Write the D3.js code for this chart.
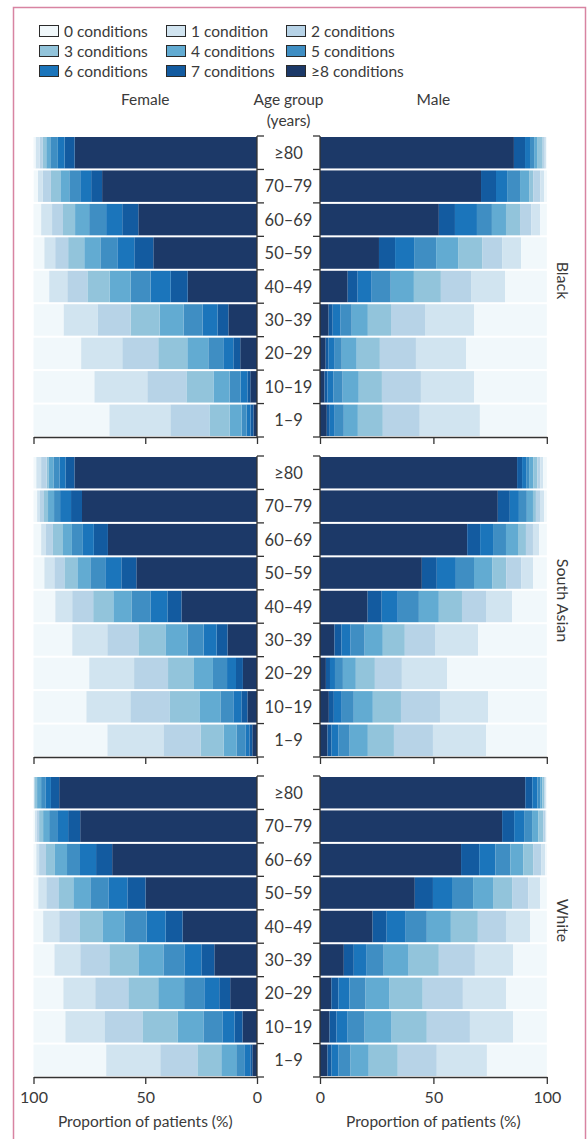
<!DOCTYPE html>
<html>
<head>
<meta charset="utf-8">
<script src="https://cdn.jsdelivr.net/npm/d3@7"></script>
<style>
  html, body { margin: 0; padding: 0; background: #fff; }
  svg { display: block; }
  text { font-family: Lato, "Noto Sans", sans-serif; fill: #3a3a3a; }
</style>
</head>
<body>
<svg id="chart" width="587" height="1139"></svg>
<script>
// ---------- data ----------
const ageGroups = ["≥80", "70–79", "60–69", "50–59", "40–49", "30–39", "20–29", "10–19", "1–9"];
const conditionLabels = ["0 conditions", "1 condition", "2 conditions", "3 conditions", "4 conditions",
  "5 conditions", "6 conditions", "7 conditions", "≥8 conditions"];
const conditionColors = ["#f1f8fb", "#d1e4f0", "#b7d3e7", "#92c4db", "#62abd2", "#3f8ec3", "#1b75bb", "#135ba0", "#1c3968"];
const ethnicities = ["Black", "South Asian", "White"];
const xTicks = [0, 50, 100];

// each row: % of patients with 0,1,2,3,4,5,6,7,≥8 conditions (rows follow ageGroups)
const blackFemale = [
  [0.9, 1.8, 1.5, 1.5, 1.8, 3.4, 3.0, 4.5, 81.6],
  [1.9, 2.2, 3.6, 4.2, 4.0, 4.9, 4.9, 4.9, 69.3],
  [3.4, 4.9, 4.9, 5.4, 6.3, 7.6, 7.2, 7.2, 53.1],
  [4.8, 4.9, 5.8, 7.2, 7.2, 7.6, 7.6, 8.5, 46.4],
  [7.0, 8.1, 9.0, 9.9, 9.4, 9.0, 9.0, 7.6, 31.0],
  [13.3, 15.2, 14.8, 13.0, 10.7, 8.5, 6.7, 4.9, 12.8],
  [21.3, 18.4, 16.1, 13.0, 9.4, 6.7, 4.5, 3.1, 7.5],
  [27.2, 23.7, 17.5, 12.1, 7.2, 4.9, 3.1, 1.3, 3.0],
  [33.9, 27.3, 17.5, 9.0, 5.4, 2.2, 1.8, 1.3, 1.6]
];
const blackMale = [
  [0.3, 0.6, 0.9, 2.5, 1.3, 1.8, 2.2, 4.9, 85.5],
  [1.2, 1.8, 3.1, 1.8, 4.0, 5.7, 4.9, 6.6, 71.0],
  [2.9, 4.0, 4.9, 6.2, 6.2, 6.6, 9.7, 7.1, 52.4],
  [11.3, 8.4, 8.8, 10.6, 9.7, 9.7, 8.4, 7.1, 26.0],
  [18.4, 15.0, 13.3, 11.9, 10.2, 8.4, 6.2, 4.4, 12.2],
  [32.1, 21.6, 15.0, 10.2, 7.1, 4.9, 3.5, 1.8, 3.8],
  [35.6, 22.1, 15.9, 10.2, 6.6, 3.1, 2.7, 1.3, 2.5],
  [32.1, 23.4, 17.2, 10.2, 7.1, 4.0, 2.7, 1.3, 2.0],
  [29.5, 26.5, 16.3, 11.0, 6.2, 4.0, 2.2, 1.3, 3.0]
];
const southAsianFemale = [
  [1.2, 2.2, 2.5, 1.0, 2.0, 2.7, 2.7, 4.0, 81.7],
  [1.6, 1.3, 1.8, 1.8, 2.7, 2.7, 4.9, 4.9, 78.3],
  [3.4, 2.2, 3.1, 4.5, 4.0, 4.9, 4.9, 6.3, 66.7],
  [4.8, 4.5, 4.5, 5.8, 5.8, 6.7, 7.2, 6.7, 54.0],
  [9.7, 7.6, 9.4, 9.0, 8.1, 8.5, 7.6, 6.3, 33.8],
  [17.3, 15.7, 13.9, 12.1, 9.9, 7.2, 5.8, 4.9, 13.2],
  [24.9, 20.1, 15.2, 11.6, 8.5, 6.3, 4.0, 3.1, 6.3],
  [23.6, 19.7, 17.5, 13.4, 9.4, 5.8, 3.6, 2.7, 4.3],
  [33.0, 25.1, 16.6, 10.3, 5.8, 4.0, 1.8, 1.3, 2.1]
];
const southAsianMale = [
  [1.6, 1.3, 1.3, 1.8, 1.8, 1.3, 1.8, 2.2, 86.9],
  [1.2, 1.8, 1.8, 1.3, 2.7, 3.5, 4.0, 5.3, 78.4],
  [3.4, 2.7, 3.1, 3.5, 5.3, 5.7, 5.7, 5.7, 64.9],
  [6.0, 5.3, 6.6, 6.2, 8.0, 8.0, 8.4, 6.6, 44.9],
  [15.3, 11.5, 10.6, 10.2, 8.8, 9.3, 7.1, 6.2, 21.0],
  [30.3, 19.0, 13.3, 9.7, 8.0, 6.2, 4.0, 3.1, 6.4],
  [44.0, 19.9, 11.9, 8.4, 5.7, 3.5, 2.2, 1.8, 2.6],
  [25.9, 21.2, 17.2, 12.4, 8.4, 5.3, 3.5, 2.2, 3.9],
  [26.8, 23.4, 17.2, 11.5, 8.0, 4.9, 3.1, 1.8, 3.3]
];
const whiteFemale = [
  [0.1, 0.1, 0.2, 1.2, 1.8, 1.9, 2.5, 3.7, 88.5],
  [0.6, 0.7, 1.2, 1.8, 2.7, 3.6, 4.9, 5.4, 79.1],
  [1.2, 1.3, 3.1, 4.0, 5.4, 5.8, 7.2, 7.2, 64.8],
  [2.1, 3.6, 5.4, 6.7, 7.6, 8.1, 8.5, 8.1, 49.9],
  [4.3, 7.2, 9.0, 10.3, 9.9, 9.9, 8.5, 7.6, 33.3],
  [9.3, 11.6, 13.0, 13.0, 11.2, 9.4, 7.6, 5.8, 19.1],
  [13.3, 14.3, 14.8, 13.4, 11.6, 9.0, 6.7, 4.9, 12.0],
  [14.2, 17.5, 17.0, 15.7, 11.6, 8.5, 5.4, 3.6, 6.5],
  [32.5, 24.2, 16.6, 10.7, 6.7, 3.6, 2.7, 0.9, 2.1]
];
const whiteMale = [
  [0.3, 0.4, 0.4, 0.9, 0.9, 1.3, 2.2, 3.1, 90.5],
  [0.3, 0.4, 0.9, 2.2, 2.7, 3.5, 4.4, 5.3, 80.3],
  [0.7, 1.8, 3.5, 4.4, 5.7, 6.6, 7.1, 8.0, 62.2],
  [2.9, 5.3, 7.1, 8.4, 8.8, 9.3, 8.4, 8.0, 41.8],
  [7.4, 10.6, 12.4, 11.9, 10.6, 9.3, 8.4, 6.2, 23.2],
  [14.9, 16.8, 15.9, 13.3, 11.0, 7.5, 5.7, 4.4, 10.5],
  [18.0, 19.0, 17.7, 14.6, 10.6, 7.1, 4.9, 3.1, 5.0],
  [14.9, 19.0, 19.0, 15.5, 11.9, 7.5, 4.9, 3.1, 4.2],
  [26.4, 22.1, 17.2, 12.8, 8.0, 5.3, 3.1, 1.8, 3.3]
];

const panels = [
  { name: ethnicities[0], female: blackFemale, male: blackMale },
  { name: ethnicities[1], female: southAsianFemale, male: southAsianMale },
  { name: ethnicities[2], female: whiteFemale, male: whiteMale }
];

// ---------- layout ----------
const svg = d3.select("#chart");
const axisColor = "#333";
const femaleRange = [257, 33.5];
const maleRange = [320, 546.8];
const panelTop0 = 136, panelH = 301, panelGap = 19;
const fs = 15.5;

const xF = d3.scaleLinear().domain([0, 100]).range(femaleRange);
const xM = d3.scaleLinear().domain([0, 100]).range(maleRange);
const color = d3.scaleOrdinal().domain(d3.range(9)).range(conditionColors);

// frame
svg.append("rect")
  .attr("x", 13.5).attr("y", 7.5).attr("width", 572).attr("height", 1150)
  .attr("fill", "none").attr("stroke", "#d884a2").attr("stroke-width", 1.5);

// legend
const legCols = [39, 166, 286], legRows = [31, 51, 71];
conditionLabels.forEach((lab, i) => {
  const gx = legCols[i % 3], gy = legRows[Math.floor(i / 3)];
  svg.append("rect").attr("x", gx + 0.5).attr("y", gy - 5.5).attr("width", 19).attr("height", 11)
    .attr("fill", color(i)).attr("stroke", "#2b2b2b").attr("stroke-width", 1);
  svg.append("text").attr("x", gx + 25).attr("y", gy + 5.5).attr("font-size", fs).text(lab);
});

// headers
svg.append("text").attr("x", (femaleRange[0] + femaleRange[1]) / 2).attr("y", 104.5)
  .attr("text-anchor", "middle").attr("font-size", fs).text("Female");
svg.append("text").attr("x", (maleRange[0] + maleRange[1]) / 2).attr("y", 104.5)
  .attr("text-anchor", "middle").attr("font-size", fs).text("Male");
svg.append("text").attr("x", 288.5).attr("y", 104.5)
  .attr("text-anchor", "middle").attr("font-size", fs).text("Age group");
svg.append("text").attr("x", 288.5).attr("y", 125.5)
  .attr("text-anchor", "middle").attr("font-size", fs).text("(years)");

// stack: ≥8 next to centre, then 7 ... 0 outward
const stackKeys = d3.range(8, -1, -1);
const stack = d3.stack().keys(stackKeys).value((row, k) => row[k]);

panels.forEach((p, pi) => {
  const top = panelTop0 + pi * (panelH + panelGap);
  const y = d3.scaleBand().domain(ageGroups).range([top, top + panelH])
    .paddingInner(0.06).paddingOuter(0.03);
  const g = svg.append("g");

  [[p.female, xF], [p.male, xM]].forEach(([rows, x]) => {
    const series = stack(rows);
    series.forEach(s => {
      g.append("g").attr("fill", color(s.key))
        .selectAll("rect").data(s).join("rect")
        .attr("x", (d) => Math.min(x(d[0]), x(d[1])))
        .attr("width", (d) => Math.abs(x(d[1]) - x(d[0])))
        .attr("y", (d, i) => y(ageGroups[i]))
        .attr("height", y.bandwidth());
    });
  });

  // age group labels
  g.selectAll("text.age").data(ageGroups).join("text")
    .attr("class", "age")
    .attr("x", 288.5).attr("y", d => y(d) + y.bandwidth() / 2 + 6)
    .attr("text-anchor", "middle").attr("font-size", 16.5).text(d => d);

  // vertical age axes with ticks at band boundaries
  const bounds = d3.range(ageGroups.length + 1).map(i => top + i * y.step());
  [[femaleRange[0], 1], [maleRange[0], -1]].forEach(([ax, dir]) => {
    g.append("line").attr("x1", ax).attr("x2", ax).attr("y1", top).attr("y2", top + panelH)
      .attr("stroke", axisColor).attr("stroke-width", 1.3);
    g.selectAll(null).data(bounds).join("line")
      .attr("x1", ax).attr("x2", ax + dir * 7).attr("y1", d => d).attr("y2", d => d)
      .attr("stroke", axisColor).attr("stroke-width", 1.3);
  });

  // bottom x axes
  const last = pi === panels.length - 1;
  [xF, xM].forEach(x => {
    const ax = g.append("g").attr("transform", `translate(0,${top + panelH})`)
      .call(d3.axisBottom(x).tickValues(xTicks).tickSize(7).tickSizeOuter(0)
        .tickFormat(last ? d3.format("d") : () => ""));
    ax.select(".domain").attr("stroke", axisColor).attr("stroke-width", 1.3);
    ax.selectAll(".tick line").attr("stroke", axisColor).attr("stroke-width", 1.3);
    ax.selectAll(".tick text").attr("font-size", 16).attr("font-family", "Lato, sans-serif")
      .attr("fill", "#3a3a3a").attr("dy", "1.0em");
    if (last) {
      g.append("text").attr("x", (x.range()[0] + x.range()[1]) / 2).attr("y", top + panelH + 49.5)
        .attr("text-anchor", "middle").attr("font-size", fs).text("Proportion of patients (%)");
    }
  });

  // ethnicity label
  g.append("text")
    .attr("transform", `translate(563,${top + panelH / 2 - 6}) rotate(90)`)
    .attr("text-anchor", "middle").attr("dy", "0.35em").attr("font-size", 16).text(p.name);
});
</script>
</body>
</html>
